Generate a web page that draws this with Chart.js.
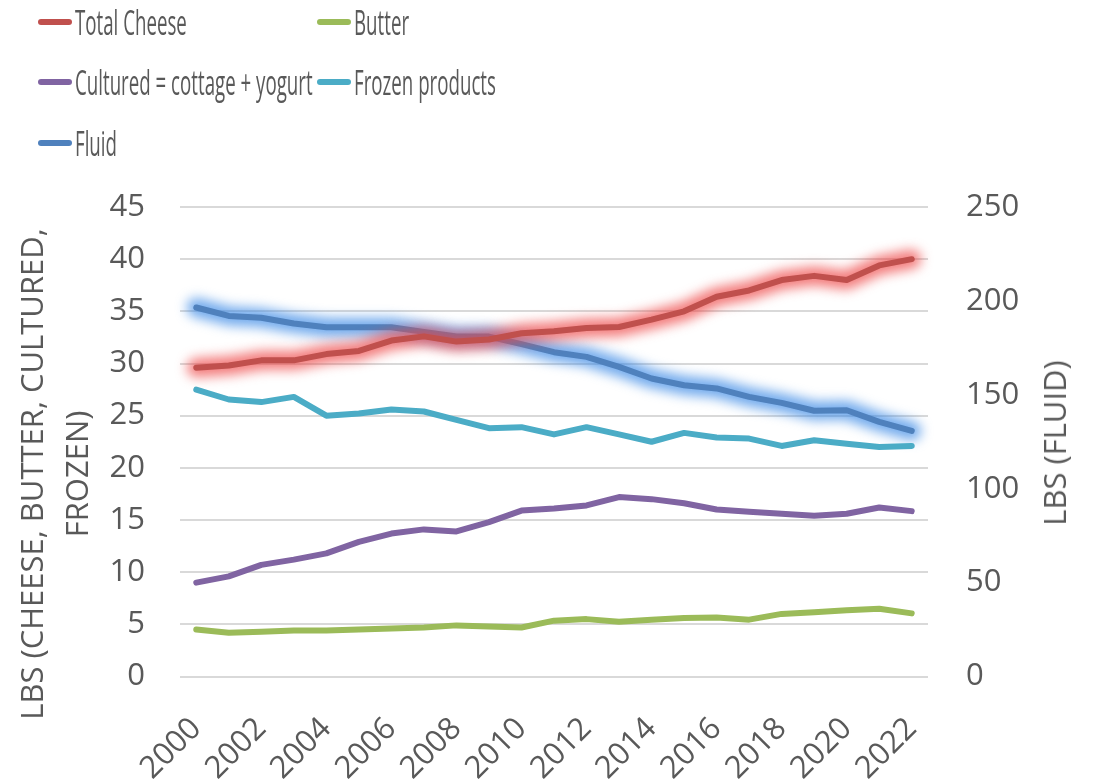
<!DOCTYPE html>
<html>
<head>
<meta charset="utf-8">
<script src="https://cdn.jsdelivr.net/npm/chart.js@4"></script>
<style>
  body { margin: 0; background: #fff; font-family: "Open Sans", sans-serif; }
  #wrap { position: relative; width: 1099px; height: 781px; }
  #legend { position: absolute; left: 0; top: 0; }
  .item { position: absolute; height: 40px; display: flex; align-items: center; }
  .swatch { width: 34px; height: 6px; border-radius: 3px; }
  .label { font-size: 34px; color: #595959; white-space: nowrap; margin-left: 3px;
           transform: scaleX(0.55); transform-origin: left center; }
  #rtitle { position: absolute; left: 1054px; top: 443px; font-size: 31px; color: #595959;
            white-space: nowrap; transform: translate(-50%, -50%) rotate(-90deg); }
</style>
</head>
<body>
<div id="wrap">
  <canvas id="chart" width="1099" height="781"></canvas>
  <div id="legend"></div>
  <div id="rtitle">LBS (FLUID)</div>
</div>
<script>
const years = ["2000","2001","2002","2003","2004","2005","2006","2007","2008","2009","2010",
  "2011","2012","2013","2014","2015","2016","2017","2018","2019","2020","2021","2022"];

// lbs per capita, left axis
const cheese = [29.6, 29.8, 30.3, 30.3, 30.9, 31.2, 32.2, 32.6, 32.1, 32.3, 32.9,
  33.1, 33.4, 33.5, 34.2, 35.0, 36.4, 37.0, 38.0, 38.4, 38.0, 39.4, 40.0];
const butter = [4.5, 4.2, 4.3, 4.4, 4.4, 4.5, 4.6, 4.7, 4.9, 4.8, 4.7,
  5.35, 5.5, 5.25, 5.45, 5.6, 5.65, 5.45, 6.0, 6.15, 6.35, 6.5, 6.05];
const cultured = [9.0, 9.6, 10.7, 11.2, 11.8, 12.9, 13.7, 14.1, 13.9, 14.8, 15.9,
  16.1, 16.4, 17.2, 17.0, 16.6, 16.0, 15.8, 15.6, 15.4, 15.6, 16.2, 15.85];
const frozen = [27.5, 26.55, 26.3, 26.8, 25.0, 25.2, 25.6, 25.4, 24.6, 23.8, 23.9,
  23.2, 23.9, 23.2, 22.5, 23.35, 22.9, 22.8, 22.1, 22.65, 22.3, 22.0, 22.1];
// right axis
const fluid = [196.5, 192, 191, 188, 186, 186, 186, 183.5, 181, 181, 177,
  172.7, 170.2, 164.9, 158.7, 155.1, 153.4, 148.9, 145.7, 141.5, 141.8, 135.6, 130.8];

const series = [
  { label: "Total Cheese", data: cheese, color: "#c0504d", glow: "rgba(238,70,70,0.7)", axis: "y" },
  { label: "Butter", data: butter, color: "#9bbb59", axis: "y" },
  { label: "Cultured = cottage + yogurt", data: cultured, color: "#8064a2", axis: "y" },
  { label: "Frozen products", data: frozen, color: "#4bacc6", axis: "y" },
  { label: "Fluid", data: fluid, color: "#4f81bd", glow: "rgba(55,135,230,0.7)", axis: "y1" },
];

// legend, two columns like excel
const legendPos = [[38, 2], [317, 2], [38, 62], [317, 62], [38, 123]];
const legend = document.getElementById("legend");
series.forEach((s, i) => {
  const el = document.createElement("div");
  el.className = "item";
  el.style.left = legendPos[i][0] + "px";
  el.style.top = legendPos[i][1] + "px";
  el.innerHTML = `<div class="swatch" style="background:${s.color}"></div><span class="label">${s.label}</span>`;
  legend.appendChild(el);
});

// blurred halo behind cheese and fluid
const glowPlugin = {
  id: "glow",
  beforeDatasetDraw(chart, args) {
    const ds = chart.data.datasets[args.index];
    if (!ds.glowColor) return;
    const ctx = chart.ctx;
    const pts = args.meta.data;
    ctx.save();
    ctx.filter = "blur(6px)";
    ctx.strokeStyle = ds.glowColor;
    ctx.lineWidth = 19;
    ctx.lineCap = "round";
    ctx.lineJoin = "round";
    ctx.beginPath();
    pts.forEach((p, i) => (i ? ctx.lineTo(p.x, p.y) : ctx.moveTo(p.x, p.y)));
    ctx.stroke();
    ctx.restore();
  },
};

Chart.defaults.font.family = "'Open Sans', sans-serif";
Chart.defaults.color = "#595959";

new Chart(document.getElementById("chart"), {
  type: "line",
  data: {
    labels: years,
    datasets: series.map((s) => ({
      label: s.label,
      data: s.data,
      borderColor: s.color,
      backgroundColor: s.color,
      glowColor: s.glow,
      yAxisID: s.axis,
      borderWidth: 6,
      borderCapStyle: "round",
      borderJoinStyle: "round",
      pointRadius: 0,
      tension: 0,
      fill: false,
    })),
  },
  options: {
    responsive: false,
    animation: false,
    layout: { padding: { top: 207, left: 0, right: 0, bottom: 0 } },
    plugins: { legend: { display: false }, tooltip: { enabled: false } },
    scales: {
      x: {
        offset: true,
        grid: { display: false },
        border: { display: false },
        ticks: {
          autoSkip: false,
          minRotation: 45,
          maxRotation: 45,
          padding: 26,
          font: { size: 31 },
          callback: (v, i) => (i % 2 === 0 ? years[i] : ""),
        },
        afterFit: (s) => { s.height = 104.5; },
      },
      y: {
        position: "left",
        min: 0,
        max: 45,
        ticks: { stepSize: 5, padding: 35, font: { size: 31 } },
        grid: { color: "#d9d9d9", lineWidth: 2, drawTicks: false },
        border: { display: false },
        title: {
          display: true,
          text: ["LBS (CHEESE, BUTTER, CULTURED,        ", "FROZEN)        "],
          font: { size: 31, lineHeight: 1.45 },
          padding: { top: 12, bottom: 0 },
        },
        afterFit: (s) => { s.width = 180; },
      },
      y1: {
        position: "right",
        min: 0,
        max: 250,
        ticks: { stepSize: 50, padding: 38, font: { size: 31 } },
        grid: { drawOnChartArea: false, drawTicks: false },
        border: { display: false },
        afterFit: (s) => { s.width = 171; },
      },
    },
  },
  plugins: [glowPlugin],
});
</script>
</body>
</html>
